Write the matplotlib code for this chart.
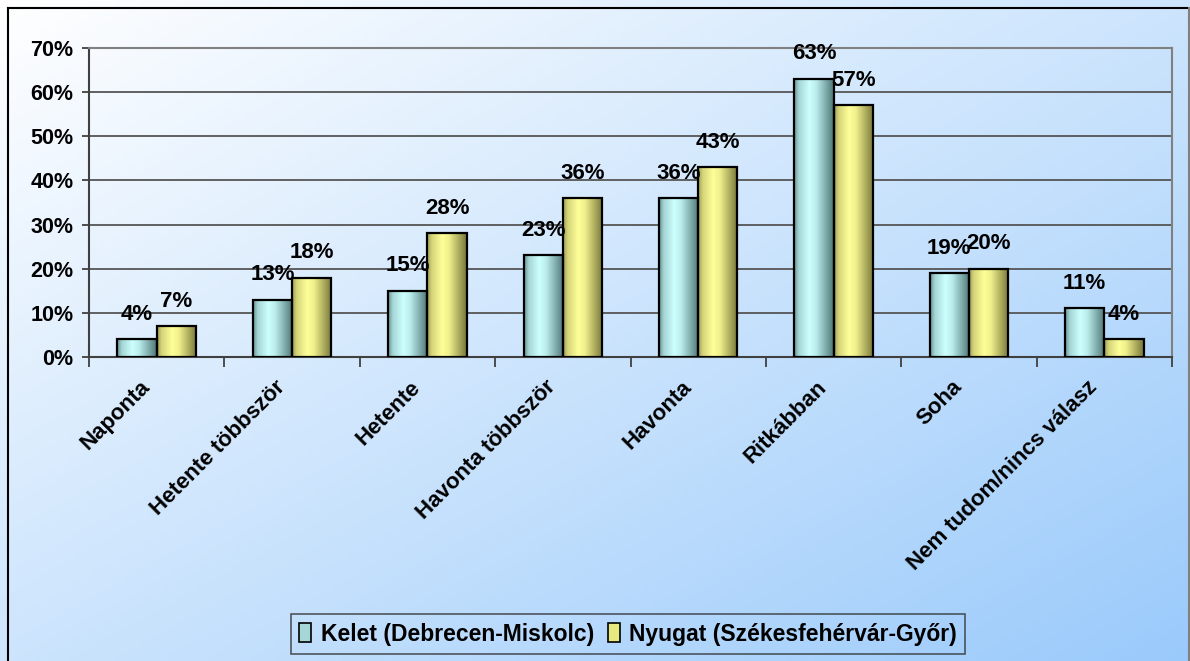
import matplotlib.pyplot as plt
import numpy as np
from matplotlib.colors import LinearSegmentedColormap
from matplotlib.patches import Patch
from matplotlib.lines import Line2D
from matplotlib import transforms

plt.rcParams['font.family'] = ['Liberation Sans', 'DejaVu Sans']
plt.rcParams['font.weight'] = 'bold'

kategoriak = ['Naponta', 'Hetente többször', 'Hetente', 'Havonta többször',
              'Havonta', 'Ritkábban', 'Soha', 'Nem tudom/nincs válasz']
kelet = [4, 13, 15, 23, 36, 63, 19, 11]
nyugat = [7, 18, 28, 36, 43, 57, 20, 4]
sorozat_nevek = ['Kelet (Debrecen-Miskolc)', 'Nyugat (Székesfehérvár-Győr)']
y_ticks = [0, 10, 20, 30, 40, 50, 60, 70]

# henger-szeru szinatmenet az oszlopokon
cm_kelet = LinearSegmentedColormap.from_list(
    'kelet', [(0, '#6a9696'), (0.12, '#a6d6d6'), (0.38, '#ccffff'),
              (0.55, '#bdeeee'), (1, '#4f7777')])
cm_nyugat = LinearSegmentedColormap.from_list(
    'nyugat', [(0, '#a0a058'), (0.12, '#d6d67a'), (0.38, '#ffff99'),
               (0.55, '#f0f08c'), (1, '#77773a')])

fig = plt.figure(figsize=(11.9, 6.61), dpi=100)

# hatter: atlos feher -> vilagoskek
bg = fig.add_axes([0, 0, 1, 1], zorder=-10)
gx, gy = np.meshgrid(np.linspace(0, 1, 300), np.linspace(0, 1, 200))
t = (gx + gy) / 2
c0 = np.array([1.0, 1.0, 1.0])
c1 = np.array([0x9a, 0xca, 0xfb]) / 255
img = c0[None, None, :] * (1 - t[..., None]) + c1[None, None, :] * t[..., None]
bg.imshow(img, extent=[0, 1, 0, 1], aspect='auto', origin='upper')
bg.set_xlim(0, 1)
bg.set_ylim(0, 1)
bg.axis('off')
# keret
W, H = 1190, 661
bg.add_line(Line2D([8 / W, 8 / W], [0, 1 - 8 / H], color='black', lw=1.5))
bg.add_line(Line2D([8 / W, 1188 / W], [1 - 8 / H, 1 - 8 / H], color='black', lw=1.5))
bg.add_line(Line2D([1188.5 / W, 1188.5 / W], [0, 1 - 8 / H], color='#808080', lw=1.5))

ax = fig.add_axes([89 / W, 1 - 357 / H, (1172 - 89) / W, (357 - 48) / H])
ax.patch.set_alpha(0)

x = np.arange(len(kategoriak)) + 0.5
bw = 0.29

for vals, cmap, off in [(kelet, cm_kelet, -bw), (nyugat, cm_nyugat, 0)]:
    grad = np.linspace(0, 1, 100)[None, :]
    for xi, v in zip(x, vals):
        ax.imshow(grad, cmap=cmap, extent=[xi + off, xi + off + bw, 0, v],
                  aspect='auto', zorder=3, interpolation='bilinear')
    ax.bar(x + off, vals, width=bw, align='edge', facecolor='none',
           edgecolor='black', linewidth=1.6, zorder=4)
    for xi, v in zip(x, vals):
        ax.annotate(f'{v}%', (xi + off + bw / 2, v), xytext=(0, 14),
                    textcoords='offset points', ha='center', va='baseline',
                    fontsize=16, fontweight='bold', zorder=6)

ax.set_xlim(0, len(kategoriak))
ax.set_ylim(0, 70)
ax.set_yticks(y_ticks)
ax.set_yticklabels([f'{v}%' for v in y_ticks], fontsize=15.5, fontweight='bold')
ax.set_xticks(np.arange(len(kategoriak) + 1))
ax.set_xticklabels([])
ax.tick_params(axis='y', length=5, width=1.3, pad=6, color='#404040')
ax.tick_params(axis='x', length=7, width=1.3, color='#404040')
ax.grid(axis='y', color='#555555', linewidth=1.3, zorder=0)
ax.set_axisbelow(True)
for s in ['left', 'bottom']:
    ax.spines[s].set_color('#404040')
    ax.spines[s].set_linewidth(1.5)
for s in ['top', 'right']:
    ax.spines[s].set_color('#808080')
    ax.spines[s].set_linewidth(1.5)

# elforgatott kategoria feliratok
for xi, lab in zip(x, kategoriak):
    tr = ax.get_xaxis_transform() + transforms.ScaledTranslation(-10 / 100, -27 / 100, fig.dpi_scale_trans)
    ax.text(xi, 0, lab, transform=tr, rotation=45, rotation_mode='anchor',
            ha='right', va='center', fontsize=16, fontweight='bold')

handles = [Patch(facecolor='#a6d6d6', edgecolor='black', linewidth=1.2),
           Patch(facecolor='#e8e880', edgecolor='black', linewidth=1.2)]
leg = fig.legend(handles, sorozat_nevek, loc='center', bbox_to_anchor=(628 / W, 1 - 634 / H),
                 ncol=2, frameon=True, fancybox=False, handlelength=0.55,
                 handleheight=0.9, handletextpad=0.4, columnspacing=0.6,
                 borderpad=0.35, borderaxespad=0, prop={'weight': 'bold', 'size': 16.5})
leg.get_frame().set_edgecolor('#333333')
leg.get_frame().set_facecolor('none')
leg.get_frame().set_linewidth(1.2)

fig.savefig('out.png', dpi=100)
